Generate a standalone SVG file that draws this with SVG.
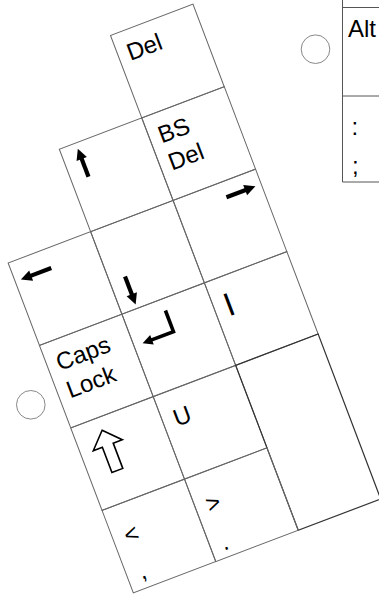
<svg xmlns="http://www.w3.org/2000/svg" width="379" height="596" viewBox="0 0 379 596">
<style>
.cell{fill:none;stroke:#666;stroke-width:1}
.dark{fill:none;stroke:#333;stroke-width:1.2}
.t{font-family:"Liberation Sans",Arial,sans-serif;font-size:24px;fill:#000}
.arr{stroke:#000;stroke-width:4.2;fill:none}
.thin{stroke:#000;stroke-width:3.6;fill:none}
.head{fill:#000}
.ring{fill:#fff;stroke:#888;stroke-width:1}
.ln{fill:none;stroke:#555;stroke-width:1}
</style>
<rect width="379" height="596" fill="#fff"/>
<g id="hole-top"><circle class="ring" cx="315.5" cy="49.2" r="14.3"/></g>
<g id="hole-left"><circle class="ring" cx="30.8" cy="404.8" r="14.3"/></g>
<g id="alt-table">
<path class="ln" d="M342.5 0 V182 H379 M342.5 7.5 H379 M342.5 96 H379"/>
<text class="t" x="348" y="37">Alt</text>
<text class="t" x="351.5" y="135" font-size="30">:</text>
<text class="t" x="352" y="174" font-size="26">;</text>
</g>
<g transform="translate(110.5 35.5) rotate(-20.78)">
<g id="key-del" transform="translate(0 0)">
<rect class="cell" width="88.2" height="88.2"/>
<text class="t" x="9.5" y="31">Del</text>
</g>
<g id="key-up" transform="translate(-88.2 88.2)">
<rect class="cell" width="88.2" height="88.2"/>
<line class="arr" x1="17.5" y1="15" x2="17.5" y2="36"/>
<polygon class="head" points="17.5,6 12,17 23,17"/>
</g>
<g id="key-bsdel" transform="translate(0 88.2)">
<rect class="cell" width="88.2" height="88.2"/>
<text class="t" x="9.5" y="31">BS</text>
<text class="t" x="9.5" y="60">Del</text>
</g>
<g id="key-left" transform="translate(-176.4 176.4)">
<rect class="cell" width="88.2" height="88.2"/>
<line class="arr" x1="15" y1="20" x2="38.5" y2="20"/>
<polygon class="head" points="6,20 17,14.5 17,25.5"/>
</g>
<g id="key-down" transform="translate(-88.2 176.4)">
<rect class="cell" width="88.2" height="88.2"/>
<line class="arr" x1="16.3" y1="54" x2="16.3" y2="75"/>
<polygon class="head" points="16.3,84 10.8,73 21.8,73"/>
</g>
<g id="key-right" transform="translate(0 176.4)">
<rect class="cell" width="88.2" height="88.2"/>
<line class="arr" x1="51" y1="16" x2="73" y2="16"/>
<polygon class="head" points="82,16 71,10.5 71,21.5"/>
</g>
<g id="key-caps" transform="translate(-176.4 264.6)">
<rect class="cell" width="88.2" height="88.2"/>
<text class="t" x="10" y="31">Caps</text>
<text class="t" x="10" y="60.5">Lock</text>
</g>
<g id="key-enter" transform="translate(-88.2 264.6)">
<rect class="cell" width="88.2" height="88.2"/>
<polyline class="thin" points="42,12 42,34.6 18,34.6"/>
<polygon class="head" points="9,34.6 19,29.6 19,39.6"/>
</g>
<g id="key-pipe" transform="translate(0 264.6)">
<rect class="cell" width="88.2" height="88.2"/>
<text class="t" x="12" y="35" font-weight="bold">|</text>
</g>
<g id="key-shift" transform="translate(-176.4 352.8)">
<rect class="cell" width="88.2" height="88.2"/>
<polygon points="28.5,13.3 44,29.3 34.3,29.3 34.3,56.3 22.7,56.3 22.7,29.3 13,29.3" fill="#fff" stroke="#000" stroke-width="1.6" stroke-linejoin="miter"/>
</g>
<g id="key-u" transform="translate(-88.2 352.8)">
<rect class="cell" width="88.2" height="88.2"/>
<text class="t" x="11.6" y="36.6">U</text>
</g>
<g id="key-big" transform="translate(0 352.8)">
<rect class="dark" width="88.2" height="176.4"/>
</g>
<g id="key-less" transform="translate(-176.4 441)">
<rect class="cell" width="88.2" height="88.2"/>
<text class="t" x="12" y="40.5" font-size="28">&lt;</text>
<text class="t" x="12.5" y="79" font-size="26">,</text>
</g>
<g id="key-greater" transform="translate(-88.2 441)">
<rect class="cell" width="88.2" height="88.2"/>
<text class="t" x="11.5" y="40.5" font-size="28">&gt;</text>
<text class="t" x="11.5" y="81" font-size="26">.</text>
</g>
</g>
</svg>
